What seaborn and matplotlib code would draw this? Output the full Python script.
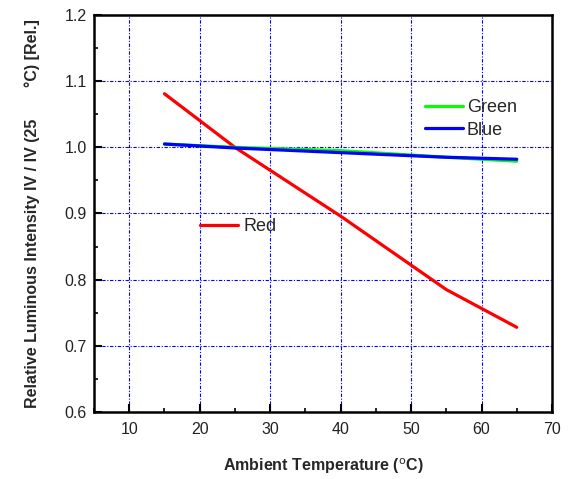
import matplotlib
matplotlib.use("Agg")
import matplotlib.pyplot as plt
import seaborn as sns
import pandas as pd
from matplotlib.lines import Line2D
from matplotlib.ticker import MultipleLocator, FormatStrFormatter
from matplotlib import font_manager

sns.set_theme(style="white")
plt.rcParams['font.family'] = ['Liberation Sans', 'DejaVu Sans']
names = {f.name for f in font_manager.fontManager.ttflist}
label_family = ['Liberation Sans Narrow', 'DejaVu Sans'] if 'Liberation Sans Narrow' in names else ['Liberation Sans', 'DejaVu Sans']
narrow = 'Liberation Sans Narrow' in names

# Data
temp_red = [15, 25, 40, 55, 65]
red = [1.081, 1.0, 0.896, 0.785, 0.728]
temp_green = [15, 25, 40, 55, 65]
green = [1.005, 1.0, 0.995, 0.985, 0.979]
temp_blue = [15, 25, 40, 55, 65]
blue = [1.005, 0.999, 0.992, 0.985, 0.982]

df = pd.concat([
    pd.DataFrame({"T": temp_red, "I": red, "Color": "Red"}),
    pd.DataFrame({"T": temp_green, "I": green, "Color": "Green"}),
    pd.DataFrame({"T": temp_blue, "I": blue, "Color": "Blue"}),
])
palette = {"Red": "#ff0000", "Green": "#00ff00", "Blue": "#0000ff"}

fig = plt.figure(figsize=(5.71, 4.79), dpi=100)
ax = fig.add_axes([0.1646, 0.1399, 0.8021, 0.8288])

sns.lineplot(data=df, x="T", y="I", hue="Color", palette=palette,
             hue_order=["Red", "Green", "Blue"], linewidth=2.3,
             legend=False, ax=ax, sort=False)

ax.set_xlim(5, 70)
ax.set_ylim(0.6, 1.2)
ax.xaxis.set_major_locator(MultipleLocator(10))
ax.xaxis.set_minor_locator(MultipleLocator(5))
ax.yaxis.set_major_locator(MultipleLocator(0.1))
ax.yaxis.set_minor_locator(MultipleLocator(0.05))
ax.yaxis.set_major_formatter(FormatStrFormatter('%.1f'))
ax.set_xticks([10, 20, 30, 40, 50, 60, 70])

ax.grid(True, which='major', color='#0000ff', linestyle=(0, (3, 1.5, 1, 1.5)), linewidth=0.8)
for s in ax.spines.values():
    s.set_color('black')
    s.set_linewidth(1.8)
ax.tick_params(which='both', direction='in', color='black', labelsize=11.5, labelcolor='#222222')
ax.tick_params(which='major', length=6, width=1.5)
ax.tick_params(which='minor', length=3, width=1.2)
ax.tick_params(axis='x', which='both', bottom=True, pad=7)
ax.tick_params(axis='y', which='both', left=True, pad=5)

lsize = 13 if narrow else 11.5
ax.set_xlabel("Ambient Temperature ($^{\\mathrm{o}}$C)", fontsize=lsize, fontweight='bold',
              labelpad=14, family=label_family)
ax.set_ylabel("Relative Luminous Intensity IV / IV (25       °C) [Rel.]", fontsize=lsize,
              fontweight='bold', labelpad=18, family=label_family)

# legends
h1 = [Line2D([], [], color=palette["Green"], lw=2.3), Line2D([], [], color=palette["Blue"], lw=2.3)]
leg1 = ax.legend(h1, ["Green", "Blue"], loc='center left', bbox_to_anchor=(0.723, 0.738),
                 frameon=False, fontsize=13, handlelength=2.1, handletextpad=0.2,
                 labelspacing=0.3, borderaxespad=0, borderpad=0)
ax.add_artist(leg1)
h2 = [Line2D([], [], color=palette["Red"], lw=2.3)]
ax.legend(h2, ["Red"], loc='center left', bbox_to_anchor=(0.231, 0.466), frameon=False,
          fontsize=13, handlelength=2.1, handletextpad=0.3, borderaxespad=0, borderpad=0)

fig.savefig("out.png", dpi=100)
